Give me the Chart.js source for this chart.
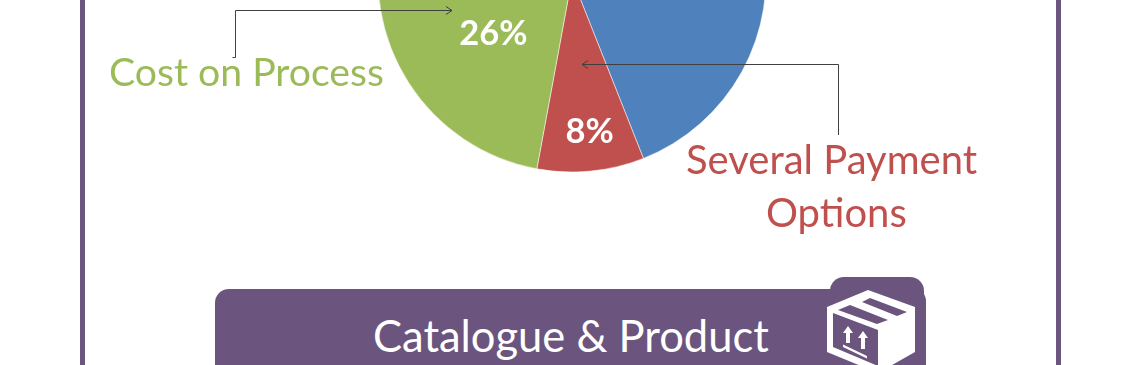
<!DOCTYPE html>
<html><head><meta charset="utf-8">
<script src="https://cdn.jsdelivr.net/npm/chart.js@4"></script>
<style>
html,body{margin:0;padding:0;background:#fff;width:1140px;height:365px;overflow:hidden}
#stage{position:relative;width:1140px;height:365px;overflow:hidden;font-family:Lato,sans-serif}
#wrap{position:absolute;left:2px;top:-261px;width:1140px;height:478px}
.t{position:absolute;white-space:nowrap;line-height:1}
.bar{position:absolute;background:#6B557E}
svg{position:absolute;left:0;top:0}
</style></head><body>
<div id="stage">
<div class="bar" style="left:80px;top:0;width:5px;height:365px"></div>
<div class="bar" style="left:1056px;top:0;width:5px;height:365px"></div>
<div id="wrap"><canvas id="c" width="1140" height="478"></canvas></div>
<div class="bar" style="left:830px;top:277px;width:94px;height:60px;border-radius:14px 14px 0 0"></div>
<div class="bar" style="left:215px;top:289px;width:711px;height:90px;border-radius:14px 12px 0 0"></div>
<div class="t" id="l1" style="left:109px;top:51px;font-size:39.2px;color:#9BBB59">Cost on Process</div>
<div class="t" id="l2" style="left:686px;top:139px;font-size:40px;color:#C0504D">Several Payment</div>
<div class="t" id="l3" style="left:766px;top:192px;font-size:40px;color:#C0504D">Options</div>
<div class="t" id="l4" style="left:373px;top:314px;font-size:43.5px;color:#fff">Catalogue &amp; Product</div>
<svg width="1140" height="365" fill="none">
<g stroke="#404040" stroke-width="1">
<path d="M232.5 57.5H235.5V10.5H452"/><path d="M446 6.5L452 10.5L446 14.5"/>
<path d="M838.5 135V64.5H582"/><path d="M588 60.5L582 64.5L588 68.5"/>
</g>
<path d="M827 307L868 290L915 307V352L878 373L827 352Z" fill="#fff"/>
<path d="M838 310L850 305L888 320L877 324Z" fill="#6B557E"/>
<path d="M862 302L870 298L907 312L897 316Z" fill="#6B557E"/>
<path d="M833 313L878 330V366L833 347Z" fill="#6B557E"/>
<g fill="#fff">
<path d="M848 326L853 333H850V343H846V333H843Z"/><path d="M863 331L868 338H865V349H861V338H858Z"/>
<path d="M843 344.5L867 356V358.5L843 347Z"/>
</g>
</svg>
</div>
<script>
const categories=['Other','Several Payment Options','Cost on Process','Remaining'];
const sliceValues=[44,8.9,26,21.1];
const sliceLabels=['','8%','26%',''];
const sliceColors=['#4F81BD','#C0504D','#9BBB59','#8064A2'];
const labelFractions=[0.5,0.78,0.5,0.5];
const pieLabels={id:'pieLabels',afterDatasetsDraw(chart){
  const ctx=chart.ctx,arcs=chart.getDatasetMeta(0).data;
  ctx.save();ctx.fillStyle='#fff';ctx.font='bold 34.5px Lato, sans-serif';ctx.textAlign='center';ctx.textBaseline='middle';
  arcs.forEach((a,i)=>{if(!sliceLabels[i])return;
    const mid=(a.startAngle+a.endAngle)/2,r=a.outerRadius*labelFractions[i];
    ctx.fillText(sliceLabels[i],a.x+Math.cos(mid)*r+3,a.y+Math.sin(mid)*r+3);});
  ctx.restore();}};
new Chart(document.getElementById('c'),{type:'pie',
 data:{labels:categories,datasets:[{data:sliceValues,backgroundColor:sliceColors,borderColor:'#fff',borderWidth:0.5}]},
 options:{responsive:false,animation:false,radius:194,rotation:0,layout:{padding:0},plugins:{legend:{display:false},tooltip:{enabled:false}}},
 plugins:[pieLabels]});
</script>
</body></html>
